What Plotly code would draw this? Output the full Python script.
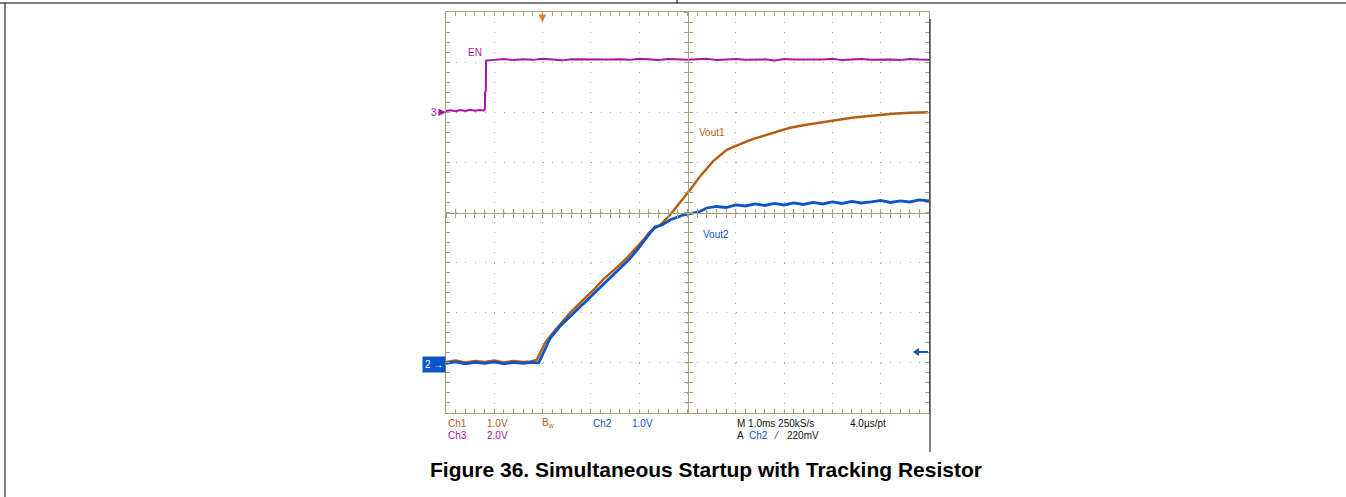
import plotly.graph_objects as go

# ---- Captured channels (time in ms relative to trigger, values in volts) ----
# Ch3: EN, 2 V/div
en_t = [-2.0, -1.9, -1.8, -1.7, -1.6, -1.5, -1.4, -1.3, -1.22, -1.195, -1.19, -1.175, -1.17,
        -1.0, -0.8, -0.6, -0.4, -0.2, 0.0, 0.2, 0.4, 0.6, 0.8, 1.0, 1.2, 1.4, 1.6, 1.8, 2.0,
        2.2, 2.4, 2.6, 2.8, 3.0, 3.2, 3.4, 3.6, 3.8, 4.0, 4.2, 4.4, 4.6, 4.8, 5.0, 5.2, 5.4,
        5.6, 5.8, 6.0, 6.2, 6.4, 6.6, 6.8, 7.0, 7.2, 7.4, 7.6, 7.8, 8.0]
en_v = [0.05, 0.08, 0.04, 0.09, 0.05, 0.10, 0.06, 0.09, 0.07, 0.12, 0.80, 0.86, 2.06,
        2.10, 2.12, 2.08, 2.11, 2.09, 2.13, 2.10, 2.07, 2.11, 2.10, 2.12, 2.08, 2.10, 2.11,
        2.09, 2.13, 2.10, 2.08, 2.12, 2.10, 2.09, 2.11, 2.13, 2.08, 2.10, 2.12, 2.09, 2.10,
        2.11, 2.07, 2.12, 2.10, 2.09, 2.11, 2.10, 2.13, 2.08, 2.10, 2.12, 2.09, 2.11, 2.10,
        2.08, 2.12, 2.10, 2.09]

# Ch1: Vout1, 1 V/div
vout1_t = [-2.0, -1.8, -1.6, -1.4, -1.2, -1.0, -0.8, -0.6, -0.4, -0.25, -0.12, 0.05, 0.215,
           0.40, 0.567, 0.75, 0.913, 1.08, 1.251, 1.42, 1.602, 1.78, 1.948, 2.10, 2.224,
           2.431, 2.638, 2.845, 3.052, 3.259, 3.528, 3.812, 4.0, 4.226, 4.4, 4.640, 4.9,
           5.122, 5.4, 5.598, 5.9, 6.157, 6.4, 6.710, 7.0, 7.255, 7.6, 7.979]
vout1_v = [0.02, 0.05, 0.01, 0.04, 0.02, 0.05, 0.01, 0.04, 0.02, 0.03, 0.06, 0.40, 0.60,
           0.82, 1.00, 1.17, 1.32, 1.48, 1.66, 1.80, 1.96, 2.13, 2.30, 2.47, 2.62,
           2.75, 2.95, 3.19, 3.45, 3.72, 4.02, 4.25, 4.33, 4.42, 4.48, 4.55, 4.63,
           4.69, 4.74, 4.77, 4.82, 4.85, 4.89, 4.92, 4.95, 4.97, 4.99, 5.00]

# Ch2: Vout2, 1 V/div
vout2_t = [-2.0, -1.8, -1.6, -1.4, -1.2, -1.0, -0.8, -0.6, -0.4, -0.25, -0.08, 0.02, 0.15,
           0.35, 0.567, 0.75, 0.913, 1.08, 1.251, 1.42, 1.602, 1.78, 1.948, 2.10, 2.224,
           2.327, 2.472, 2.638, 2.907, 3.259, 3.4, 3.6, 3.8, 4.0, 4.2, 4.4, 4.6, 4.8, 5.0,
           5.2, 5.4, 5.6, 5.8, 6.0, 6.2, 6.4, 6.6, 6.8, 7.0, 7.2, 7.4, 7.6, 7.8, 8.0]
vout2_v = [-0.01, 0.02, -0.02, 0.01, -0.01, 0.02, -0.02, 0.01, -0.01, 0.01, 0.00, 0.22, 0.48,
           0.72, 0.92, 1.09, 1.25, 1.40, 1.57, 1.71, 1.88, 2.05, 2.24, 2.44, 2.59,
           2.71, 2.75, 2.85, 2.95, 3.02, 3.09, 3.12, 3.10, 3.15, 3.13, 3.17, 3.14, 3.18, 3.15,
           3.19, 3.16, 3.20, 3.17, 3.21, 3.18, 3.22, 3.19, 3.21, 3.24, 3.20, 3.23, 3.21, 3.25,
           3.23]

trigger_level_v = 0.22

# ---- Scope settings ----
time_range = [-2, 8]          # 1 ms/div, trigger at 2nd division
ch12_range = [-1, 7]          # 1 V/div, ground 3 div below centre
ch3_range = [-12, 4]          # 2 V/div, ground 2 div above centre

C_CH1 = "#b25d12"
C_CH2 = "#0b55c6"
C_CH3 = "#a516a8"
C_GRAT = "#a8a283"
C_DOT = "#aeaa98"

W, H = 1346, 497
L, R, T, B = 446, 929, 12, 413     # graticule box in pixels


def px(x):
    return (x - L) / (R - L)


def py(y):
    return (B - y) / (B - T)


fig = go.Figure()

fig.add_trace(go.Scatter(x=en_t, y=en_v, mode="lines", yaxis="y2",
                         line=dict(color=C_CH3, width=2), hoverinfo="skip"))
fig.add_trace(go.Scatter(x=vout1_t, y=vout1_v, mode="lines",
                         line=dict(color=C_CH1, width=2.4), hoverinfo="skip"))
fig.add_trace(go.Scatter(x=vout2_t, y=vout2_v, mode="lines",
                         line=dict(color=C_CH2, width=2.8), hoverinfo="skip"))

# empty traces so the centre-cross axes are instantiated
for xa, ya in [("x2", "y"), ("x3", "y"), ("x", "y3"), ("x", "y4")]:
    fig.add_trace(go.Scatter(x=[], y=[], xaxis=xa, yaxis=ya, showlegend=False))

minor_x = dict(dtick=0.2, ticklen=4, tickcolor=C_GRAT, showgrid=False)
minor_y = dict(dtick=0.2, ticklen=4, tickcolor=C_GRAT, showgrid=False)

frame_x = dict(range=time_range, dtick=1, tick0=-2, showticklabels=False,
               showline=True, linecolor=C_GRAT, linewidth=1, zeroline=False,
               fixedrange=True)
frame_y = dict(range=ch12_range, dtick=1, tick0=-1, showticklabels=False,
               showline=True, linecolor=C_GRAT, linewidth=1, zeroline=False,
               fixedrange=True)

fig.update_layout(
    width=W, height=H, autosize=False,
    margin=dict(l=L, r=W - R, t=T, b=H - B, pad=0),
    paper_bgcolor="white", plot_bgcolor="white",
    showlegend=False,
    font=dict(family="Arial, Liberation Sans, sans-serif", size=10),
    xaxis=dict(**frame_x, mirror="ticks", ticks="inside", ticklen=4, tickcolor=C_GRAT,
               minor=dict(**minor_x, ticks="inside"),
               showgrid=True, gridcolor=C_DOT, gridwidth=1, griddash="1px,9.02px"),
    yaxis=dict(**frame_y, mirror="ticks", ticks="inside", ticklen=4, tickcolor=C_GRAT,
               minor=dict(**minor_y, ticks="inside"),
               showgrid=True, gridcolor=C_DOT, gridwidth=1, griddash="1px,8.66px"),
    yaxis2=dict(range=ch3_range, overlaying="y", showgrid=False, zeroline=False,
                showline=False, showticklabels=False, ticks="", fixedrange=True),
    xaxis2=dict(**frame_x, overlaying="x", anchor="free", position=0.5,
                ticks="outside", ticklen=4, tickcolor=C_GRAT, showgrid=False,
                minor=dict(**minor_x, ticks="outside")),
    xaxis3=dict(**frame_x, overlaying="x", anchor="free", position=0.5,
                ticks="inside", ticklen=4, tickcolor=C_GRAT, showgrid=False,
                minor=dict(**minor_x, ticks="inside")),
    yaxis3=dict(**frame_y, overlaying="y", anchor="free", position=0.5,
                ticks="outside", ticklen=4, tickcolor=C_GRAT, showgrid=False,
                minor=dict(**minor_y, ticks="outside")),
    yaxis4=dict(**frame_y, overlaying="y", anchor="free", position=0.5,
                ticks="inside", ticklen=4, tickcolor=C_GRAT, showgrid=False,
                minor=dict(**minor_y, ticks="inside")),
)

ann = []
# trace labels
ann.append(dict(x=-1.40, y=2.40, xref="x", yref="y2", text="EN", showarrow=False,
                font=dict(color=C_CH3, size=10)))
ann.append(dict(x=3.20, y=4.59, xref="x", yref="y", text="Vout1", showarrow=False,
                xanchor="left", font=dict(color=C_CH1, size=10)))
ann.append(dict(x=3.27, y=2.555, xref="x", yref="y", text="Vout2", showarrow=False,
                xanchor="left", font=dict(color=C_CH2, size=10)))

# Ch3 ground marker: "3" with an arrow pointing at the graticule edge
ann.append(dict(x=0, y=0, xref="paper", yref="y2", text="3", showarrow=True,
                ax=-12, ay=0, axref="pixel", ayref="pixel", arrowhead=2, arrowsize=1,
                arrowwidth=1.5, arrowcolor=C_CH3, standoff=0,
                font=dict(color=C_CH3, size=10)))

# Ch2 ground marker: filled tag
ann.append(dict(x=0, y=0, xref="paper", yref="y", text="2 <b>→</b>", showarrow=False,
                xanchor="right", yanchor="middle", bgcolor=C_CH2, borderpad=2,
                yshift=-2, font=dict(color="white", size=10)))

# trigger position marker on the top edge
ann.append(dict(x=0, y=1, xref="x", yref="paper", text="▼", showarrow=False,
                xanchor="center", yanchor="top", yshift=4,
                font=dict(color="#f07a2a", size=13)))

# status readout below the graticule
row1 = py(423.3)
row2 = py(435.3)
readout = [
    (445.7, row1, "Ch1", C_CH1), (485, row1, "1.0V", C_CH1),
    (540, row1, "B<sub>w</sub>", C_CH1),
    (590.7, row1, "Ch2", C_CH2), (630, row1, "1.0V", C_CH2),
    (735, row1, "M 1.0ms 250kS/s", "#111111"), (848, row1, "4.0µs/pt", "#111111"),
    (445.7, row2, "Ch3", C_CH3), (485, row2, "2.0V", C_CH3),
    (735, row2, "A", "#111111"), (747, row2, "Ch2", C_CH2),
    (771, row2, "⁄", "#111111"), (785, row2, "220mV", "#111111"),
]
for x, y, txt, col in readout:
    ann.append(dict(x=px(x), y=y, xref="paper", yref="paper", text=txt, showarrow=False,
                    xanchor="left", yanchor="middle", font=dict(color=col, size=10)))

# figure caption
ann.append(dict(x=px(706), y=py(470), xref="paper", yref="paper",
                text="<b>Figure 36. Simultaneous Startup with Tracking Resistor</b>",
                showarrow=False, xanchor="center", yanchor="middle",
                font=dict(color="black", size=21, family="Arial, Liberation Sans")))
fig.update_layout(annotations=ann)

# trigger level arrow on the right edge (y position from the trigger level in volts)
trig_py = 363 - trigger_level_v * (B - T) / (ch12_range[1] - ch12_range[0])
shapes = [
    dict(type="line", xref="paper", yref="paper", x0=px(917), x1=px(928),
         y0=py(trig_py), y1=py(trig_py), line=dict(color=C_CH2, width=2)),
    dict(type="path", xref="paper", yref="paper",
         path=f"M {px(913)},{py(trig_py)} L {px(919)},{py(trig_py - 4)} "
              f"L {px(919)},{py(trig_py + 4)} Z",
         fillcolor=C_CH2, line=dict(width=0)),
]

# surrounding table rules
shapes += [
    dict(type="line", xref="paper", yref="paper", x0=px(0), x1=px(W), y0=py(3), y1=py(3),
         line=dict(color="black", width=1.2)),
    dict(type="line", xref="paper", yref="paper", x0=px(5), x1=px(5), y0=py(3), y1=py(H),
         line=dict(color="black", width=1)),
    dict(type="line", xref="paper", yref="paper", x0=px(677), x1=px(677), y0=py(0), y1=py(3),
         line=dict(color="black", width=1)),
    dict(type="line", xref="paper", yref="paper", x0=px(930), x1=px(930), y0=py(19), y1=py(452),
         line=dict(color="black", width=1)),
]
fig.update_layout(shapes=shapes)

fig.write_html("out.html")
